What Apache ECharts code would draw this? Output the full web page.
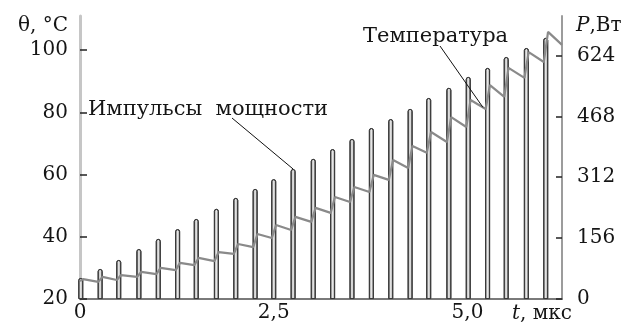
<!DOCTYPE html>
<html>
<head>
<meta charset="utf-8">
<script src="https://cdn.jsdelivr.net/npm/echarts@6/dist/echarts.min.js"></script>
<style>
  html, body { margin: 0; padding: 0; background: #fff; }
  #chart { width: 631px; height: 326px; }
</style>
</head>
<body>
<div id="chart"></div>
<script>
// Power pulses: start time (µs) and peak power (W)
const pulseTimes = [0.01, 0.26, 0.50, 0.76, 1.01, 1.26, 1.50, 1.76, 2.01, 2.26,
                    2.50, 2.75, 3.01, 3.26, 3.51, 3.76, 4.01, 4.26, 4.50, 4.76,
                    5.01, 5.26, 5.50, 5.76, 6.01];
const pulsePower = [54, 77, 100, 128, 154, 179, 205, 231, 259, 282,
                    307, 333, 359, 384, 410, 438, 461, 487, 515, 541,
                    569, 592, 620, 643, 669];

// Temperature just before each pulse and right after it (°C)
const tempBefore = [25.8, 25.5, 26.1, 27.1, 28.0, 29.3, 30.9, 32.2, 34.5, 36.7,
                    39.6, 42.2, 44.8, 47.7, 51.2, 54.4, 58.3, 62.1, 67.0, 70.5,
                    75.3, 81.1, 85.0, 91.1, 96.2];
const tempAfter  = [26.4, 27.1, 27.7, 28.7, 30.0, 31.6, 33.2, 35.1, 37.7, 40.9,
                    43.8, 46.4, 49.3, 52.8, 56.0, 59.9, 64.7, 69.2, 73.7, 78.5,
                    84.0, 88.8, 94.3, 99.4, 105.9];
const tempEndTime = 6.22;
const tempEndValue = 101.7;
// heating takes place while the pulse is on (µs before / after its start)
const riseLead = 0.025;
const riseLag = 0.03;

// Axis ticks
const timeTicks = [0, 2.5, 5];
const timeTickLabels = ['0', '2,5', '5,0'];
const tempTicks = [20, 40, 60, 80, 100];
const powerTicks = [0, 156, 312, 468, 624];

const FONT = '"DejaVu Serif", "Liberation Serif", serif';
const INK = '#151515';

const tempLine = [];
pulseTimes.forEach((t, i) => {
  tempLine.push([Math.max(0, t - riseLead), tempBefore[i]]);
  tempLine.push([t + riseLag, tempAfter[i]]);
});
tempLine.push([tempEndTime, tempEndValue]);

const pulseData = pulseTimes.map((t, i) => [t, pulsePower[i]]);

const chart = echarts.init(document.getElementById('chart'), null, { renderer: 'canvas' });

const labelStyle = { fontFamily: FONT, fontSize: 20, color: INK };

const option = {
  animation: false,
  backgroundColor: '#fff',
  grid: { left: 80, right: 69, top: 16, bottom: 27 },
  xAxis: {
    type: 'value', min: 0, max: 6.22,
    axisLine: { onZero: false, lineStyle: { color: '#7a7a7a', width: 2 } },
    axisTick: { show: false },
    splitLine: { show: false },
    axisLabel: Object.assign({
      customValues: timeTicks,
      margin: 4,
      formatter: v => {
        const i = timeTicks.indexOf(v);
        return i >= 0 ? timeTickLabels[i] : '';
      }
    }, labelStyle)
  },
  yAxis: [
    {
      type: 'value', min: 20, max: 111, position: 'left',
      axisLine: { show: true, lineStyle: { color: '#c6c6c6', width: 3 } },
      axisTick: { show: true, inside: true, length: 7, customValues: tempTicks,
                  lineStyle: { color: '#222', width: 1.5 } },
      splitLine: { show: false },
      axisLabel: Object.assign({
        customValues: tempTicks, margin: 12,
        formatter: v => tempTicks.indexOf(v) >= 0 ? String(v) : ''
      }, labelStyle)
    },
    {
      type: 'value', min: 0, max: 725, position: 'right',
      axisLine: { show: true, lineStyle: { color: '#9c9c9c', width: 2 } },
      axisTick: { show: true, inside: true, length: 6, customValues: powerTicks,
                  lineStyle: { color: '#222', width: 1.5 } },
      splitLine: { show: false },
      axisLabel: Object.assign({
        customValues: powerTicks, margin: 15,
        formatter: v => powerTicks.indexOf(v) >= 0 ? String(v) : ''
      }, labelStyle)
    }
  ],
  series: [
    {
      name: 'Импульсы мощности',
      type: 'bar',
      xAxisIndex: 0, yAxisIndex: 1,
      data: pulseData,
      barWidth: 5,
      silent: true,
      z: 2,
      itemStyle: {
        color: new echarts.graphic.LinearGradient(0, 0, 1, 0, [
          { offset: 0, color: '#555' },
          { offset: 0.3, color: '#c0c0c0' },
          { offset: 0.5, color: '#ececec' },
          { offset: 0.7, color: '#c0c0c0' },
          { offset: 1, color: '#555' }
        ]),
        borderColor: '#3a3a3a',
        borderWidth: 1,
        borderRadius: [2, 2, 0, 0]
      }
    },
    {
      name: 'Температура',
      type: 'line',
      xAxisIndex: 0, yAxisIndex: 0,
      data: tempLine,
      showSymbol: false,
      silent: true,
      z: 3,
      lineStyle: { color: '#8a8a8a', width: 2.2 }
    }
  ]
};

chart.setOption(option);

// leader lines end on the marks they point to
const pulseTip = chart.convertToPixel({ seriesIndex: 0 }, [pulseTimes[11], pulsePower[11]]);
const tLead = 5.2;
const k = 20;
const tA = pulseTimes[k] + riseLag, tB = pulseTimes[k + 1] - riseLead;
const f = (tLead - tA) / (tB - tA);
const tempPoint = chart.convertToPixel({ seriesIndex: 1 },
  [tLead, tempAfter[k] + f * (tempBefore[k + 1] - tempAfter[k])]);

const textBase = { fontFamily: FONT, fontSize: 20, fill: INK, verticalAlign: 'middle' };
const italic = { fontStyle: 'italic', fontFamily: FONT, fontSize: 20, fill: INK };

chart.setOption({
  graphic: [
    { type: 'text', x: 68, y: 26,
      style: Object.assign({}, textBase, { text: 'θ, °C', align: 'right' }) },
    { type: 'text', x: 576, y: 26,
      style: Object.assign({}, textBase, { text: '{i|P},Вт', align: 'left', rich: { i: italic } }) },
    { type: 'text', x: 512, y: 314,
      style: Object.assign({}, textBase, { text: '{i|t}, мкс', align: 'left', rich: { i: italic } }) },
    { type: 'text', x: 88, y: 110,
      style: Object.assign({}, textBase, { text: 'Импульсы  мощности', fontSize: 21, align: 'left' }) },
    { type: 'text', x: 363, y: 37,
      style: Object.assign({}, textBase, { text: 'Температура', fontSize: 21, align: 'left' }) },
    { type: 'line', shape: { x1: 232, y1: 118, x2: pulseTip[0], y2: pulseTip[1] },
      style: { stroke: '#111', lineWidth: 1 }, z: 10 },
    { type: 'line', shape: { x1: 440, y1: 46, x2: tempPoint[0], y2: tempPoint[1] },
      style: { stroke: '#111', lineWidth: 1 }, z: 10 }
  ]
});
</script>
</body>
</html>
